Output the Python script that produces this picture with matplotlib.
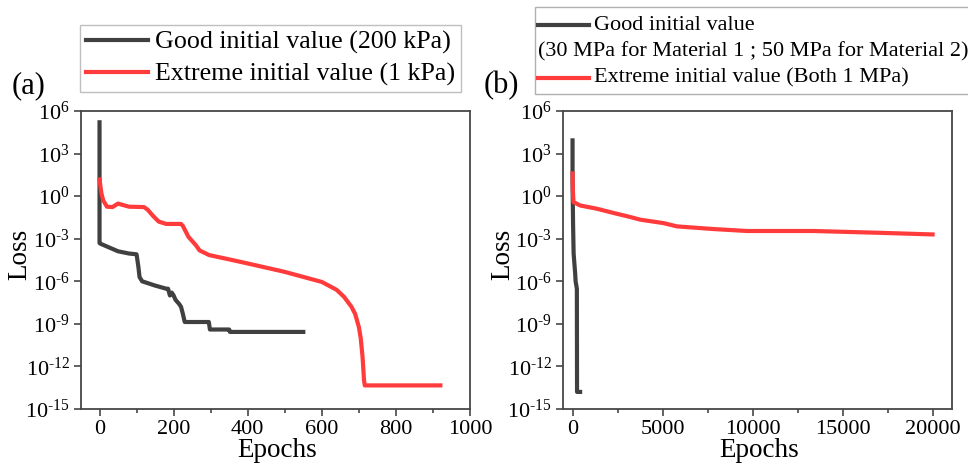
import math
import matplotlib
matplotlib.use('Agg')
import matplotlib.pyplot as plt
from matplotlib.lines import Line2D
from matplotlib.patches import Rectangle
from matplotlib.ticker import MultipleLocator, NullLocator, FuncFormatter

plt.rcParams['font.family'] = ['Liberation Serif', 'DejaVu Serif']
plt.rcParams['mathtext.fontset'] = 'custom'
plt.rcParams['mathtext.rm'] = 'Liberation Serif'
plt.rcParams['mathtext.it'] = 'Liberation Serif:italic'
plt.rcParams['mathtext.bf'] = 'Liberation Serif:bold'

# ---- data ----
# (a) material with 200 kPa / 1 kPa initial guesses
a_good_epochs = [0, 0, 2, 50, 80, 100, 105, 108, 115, 150, 180, 185, 190, 195,
                 200, 205, 215, 220, 225, 230, 295, 298, 350, 352, 550]
a_good_loss = [1.6e5, 5e-4, 4.5e-4, 1.3e-4, 9e-5, 8e-5, 1e-5, 2e-6, 1e-6, 5e-7,
               3e-7, 3e-7, 1e-7, 1.6e-7, 1e-7, 5e-8, 2.5e-8, 1.6e-8, 5e-9,
               1.35e-9, 1.35e-9, 4e-10, 4e-10, 2.7e-10, 2.7e-10]

a_ext_epochs = [0, 5, 10, 20, 35, 50, 60, 80, 120, 130, 145, 160, 180, 220, 225,
                240, 260, 270, 296, 350, 400, 500, 600, 640, 660, 680, 690, 700,
                705, 710, 714, 716, 920]
a_ext_loss = [15, 1.6, 0.5, 0.18, 0.17, 0.3, 0.25, 0.18, 0.17, 0.11, 0.039,
              0.016, 0.011, 0.011, 0.008, 1.35e-3, 3.5e-4, 1.5e-4, 7e-5, 3.5e-5,
              1.8e-5, 4.6e-6, 9e-7, 2.5e-7, 8e-8, 1.6e-8, 5e-9, 6e-10, 1e-10,
              4.6e-12, 1e-13, 4.6e-14, 4.6e-14]

# (b) two materials, MPa initial guesses
b_good_epochs = [0, 0, 30, 60, 150, 170, 240, 250, 420]
b_good_loss = [8.5e3, 10, 1e-2, 9e-5, 3e-6, 1e-6, 3e-7, 1.6e-14, 1.6e-14]

b_ext_epochs = [0, 20, 55, 426, 1350, 2280, 3200, 3760, 5050, 5800, 7830, 9690,
                13390, 17100, 20000]
b_ext_loss = [40, 2, 0.38, 0.22, 0.13, 0.065, 0.034, 0.022, 0.0126, 0.0074,
              0.0048, 0.0035, 0.0035, 0.0026, 0.002]

loss_tick_exps = [-15, -12, -9, -6, -3, 0, 3, 6]

GOOD = '#404040'
EXT = '#ff3b3b'
SPINE = '#474747'

W, H = 968, 466
fig = plt.figure(figsize=(W / 100, H / 100), dpi=100)


def px(x0, y0, x1, y1):
    """pixel box (left, top, right, bottom) -> figure fraction rect"""
    return [x0 / W, 1 - y1 / H, (x1 - x0) / W, (y1 - y0) / H]


def pow10(v, pos):
    e = int(round(math.log10(v)))
    # short hyphen in the exponent, like the original
    s = str(abs(e))
    if e < 0:
        s = '\u2010' + s
    return '$10^{%s}$' % s


def style(ax, xlim, xmajor, xminor, ylab_x):
    ax.set_yscale('log')
    ax.set_ylim(1e-15, 1e6)
    ax.set_yticks([10.0 ** e for e in loss_tick_exps])
    ax.yaxis.set_minor_locator(NullLocator())
    ax.yaxis.set_major_formatter(FuncFormatter(pow10))
    ax.set_xlim(*xlim)
    ax.xaxis.set_major_locator(MultipleLocator(xmajor))
    ax.xaxis.set_minor_locator(MultipleLocator(xminor))
    for s in ax.spines.values():
        s.set_color(SPINE)
        s.set_linewidth(1.3)
    ax.tick_params(which='both', direction='out', color=SPINE, width=1.2,
                   labelsize=16, top=False, right=False)
    ax.tick_params(which='major', length=5, pad=3)
    ax.tick_params(which='minor', length=3)
    ax.set_xlabel('Epochs', fontsize=19.5)
    ax.set_ylabel('Loss', fontsize=19.5)
    ax.xaxis.label.set_va('center')
    ax.yaxis.label.set_va('center')
    ax.xaxis.set_label_coords(0.505, -0.14)
    ax.yaxis.set_label_coords(ylab_x, 0.52)


ax1 = fig.add_axes(px(81, 111, 470, 409))
ax1.plot(a_good_epochs, a_good_loss, color=GOOD, lw=3,
         label='Good initial value (200 kPa)')
ax1.plot(a_ext_epochs, a_ext_loss, color=EXT, lw=3,
         label='Extreme initial value (1 kPa)')
style(ax1, (-50, 1000), 200, 100, -0.157)
leg = ax1.legend(loc='upper left', bbox_to_anchor=(-0.002, 1.289), fontsize=18.7,
                 frameon=True, fancybox=False, handlelength=2.4,
                 handletextpad=0.25, labelspacing=0.32, borderpad=0.22,
                 borderaxespad=0)
leg.get_frame().set_edgecolor('#b0b0b0')
leg.get_frame().set_linewidth(1.0)

ax2 = fig.add_axes(px(563, 111, 952, 409))
ax2.plot(b_good_epochs, b_good_loss, color=GOOD, lw=3)
ax2.plot(b_ext_epochs, b_ext_loss, color=EXT, lw=3)
style(ax2, (-530, 21080), 5000, 2500, -0.155)

# manual legend for (b): second line of the first label sits under the handle
fig.add_artist(Rectangle((535 / W, 1 - 94 / H), (975 - 535) / W, (94 - 7) / H,
                         transform=fig.transFigure, fill=False,
                         edgecolor='#b0b0b0', lw=1.0))
fig.add_artist(Line2D([538 / W, 589 / W], [1 - 25 / H] * 2, color=GOOD, lw=3,
                      transform=fig.transFigure))
fig.add_artist(Line2D([538 / W, 589 / W], [1 - 78 / H] * 2, color=EXT, lw=3,
                      transform=fig.transFigure))
fig.text(594 / W, 1 - 25 / H, 'Good initial value', fontsize=16, va='center')
fig.text(538 / W, 1 - 52 / H,
         '(30 MPa for Material 1 ; 50 MPa for Material 2)',
         fontsize=16, va='center')
fig.text(594 / W, 1 - 78 / H, 'Extreme initial value (Both 1 MPa)',
         fontsize=16, va='center')

fig.text(12 / W, 1 - 86 / H, '(a)', fontsize=22, va='center')
fig.text(484 / W, 1 - 86 / H, '(b)', fontsize=22, va='center')

fig.savefig('out.png', dpi=100)
